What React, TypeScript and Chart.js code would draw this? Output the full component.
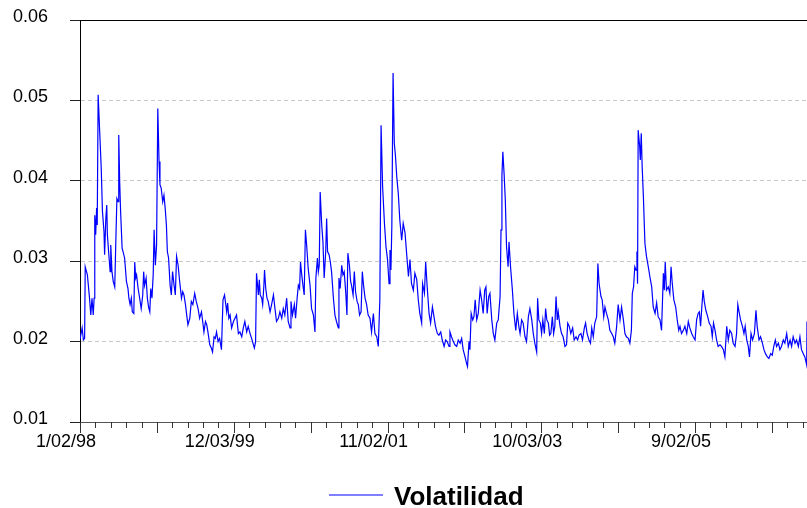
import React, { useEffect, useRef } from "react";
import { Chart, registerables } from "chart.js";

Chart.register(...registerables);

// trading-day index since 1/02/98
const days = [
  0, 7, 11, 15, 17, 24, 31, 35, 39, 43,
  46, 48, 51, 54, 56, 59, 64, 69, 73, 78,
  80, 84, 87, 89, 93, 98, 100, 104, 108, 113,
  117, 120, 124, 126, 129, 132, 137, 140, 145, 151,
  156, 159, 163, 167, 170, 175, 178, 181, 184, 189,
  194, 199, 204, 207, 210, 215, 219, 223, 227, 230,
  234, 238, 241, 245, 249, 253, 257, 260, 264, 269,
  273, 277, 281, 284, 288, 293, 297, 301, 306, 310,
  314, 319, 324, 330, 334, 338, 343, 347, 351, 357,
  362, 367, 373, 378, 384, 389, 395, 399, 403, 408,
  412, 416, 422, 427, 431, 436, 440, 444, 449, 454,
  460, 465, 470, 477, 480, 484, 488, 493, 499, 504,
  509, 515, 520, 526, 531, 536, 542, 547, 553, 558,
  564, 567, 571, 574, 580, 583, 586, 591, 594, 598,
  600, 604, 608, 612, 618, 623, 629, 634, 639, 645,
  650, 656, 661, 666, 672, 677, 683, 686, 691, 697,
  701, 706, 710, 714, 717, 721, 725, 729, 733, 737,
  742, 748, 753, 759, 764, 767, 772, 775, 778, 781,
  786, 790, 794, 799, 802, 805, 810, 814, 818, 824,
  829, 834, 840, 842, 846, 851, 855, 859, 864, 868,
  871, 876, 880, 883, 888, 892, 896, 901, 905, 909,
  914, 918, 922, 927, 932, 937, 943, 948, 954, 959,
  965, 970, 975, 979, 984, 990, 995, 1000, 1005, 1008,
  1011, 1014, 1018, 1022, 1026, 1030, 1035, 1040, 1046, 1051,
  1057, 1062, 1068, 1073, 1078, 1084, 1089, 1095, 1100, 1105,
  1111, 1114, 1120, 1124, 1129, 1135, 1140, 1146, 1151, 1156,
  1162, 1167, 1173, 1178, 1184, 1189, 1194, 1200, 1203, 1208,
  1214, 1219, 1225, 1230, 1236, 1241, 1246, 1252, 1257, 1260,
  1265, 1268, 1272, 1277, 1281, 1285, 1290, 1295, 1301, 1306,
  1311, 1316, 1320, 1324, 1329, 1333, 1339, 1344, 1349, 1355,
  1360, 1366, 1369, 1372, 1375, 1379, 1383, 1387, 1392, 1395,
  1400, 1406, 1411, 1417, 1422, 1427, 1431, 1436, 1441, 1447,
  1452, 1458, 1463, 1469, 1474, 1479, 1485, 1488, 1492, 1497,
  1501, 1505, 1510, 1514, 1518, 1523, 1527, 1531, 1536, 1540,
  1544, 1548, 1552, 1555, 1561, 1566, 1571, 1577, 1582, 1586,
  1591, 1596, 1602, 1607, 1613, 1618, 1623, 1629, 1634, 1640,
  1644, 1649, 1655, 1660, 1664, 1669, 1674, 1680, 1684, 1688,
  1694, 1698, 1703, 1707, 1712, 1718, 1723, 1729, 1734, 1739,
  1745, 1750, 1756, 1761, 1767, 1772, 1777, 1783, 1788, 1793,
  1796, 1800, 1804, 1808, 1811, 1813, 1815, 1820, 1822, 1825,
  1828, 1832, 1837, 1842, 1848, 1853, 1859, 1864, 1870, 1875,
  1880, 1886, 1891, 1897, 1900, 1903, 1907, 1913, 1918, 1922,
  1926, 1931, 1937, 1942, 1947, 1951, 1956, 1962, 1967, 1973,
  1978, 1983, 1989, 1994, 2000, 2005, 2010, 2014, 2018, 2022,
  2026, 2030, 2035, 2041, 2046, 2052, 2056, 2060, 2065, 2070,
  2075, 2081, 2086, 2092, 2097, 2103, 2108, 2113, 2119, 2124,
  2130, 2135, 2139, 2144, 2148, 2154, 2159, 2163, 2168, 2173,
  2177, 2182, 2187, 2193, 2198, 2202, 2208, 2213, 2219, 2224,
  2229, 2235, 2240, 2246, 2251, 2256, 2261, 2265, 2271, 2276,
  2281, 2287, 2292, 2298, 2303, 2309, 2314, 2319, 2325, 2330,
  2336, 2341, 2346, 2352, 2357, 2363, 2364,
];

const volatility = [
  0.0203, 0.0217, 0.0202, 0.0204, 0.0293, 0.0283, 0.0254, 0.0233, 0.0254, 0.0233,
  0.0254, 0.0357, 0.0333, 0.0366, 0.0345, 0.0507, 0.0461, 0.0416, 0.0362, 0.0337,
  0.0308, 0.0353, 0.0370, 0.0333, 0.0312, 0.0287, 0.0320, 0.0287, 0.0275, 0.0268,
  0.0333, 0.0378, 0.0374, 0.0457, 0.0399, 0.0362, 0.0316, 0.0312, 0.0304, 0.0275,
  0.0266, 0.0254, 0.0246, 0.0254, 0.0237, 0.0235, 0.0299, 0.0279, 0.0283, 0.0266,
  0.0254, 0.0241, 0.0258, 0.0287, 0.0270, 0.0279, 0.0254, 0.0243, 0.0237, 0.0266,
  0.0254, 0.0283, 0.0339, 0.0295, 0.0320, 0.0490, 0.0424, 0.0395, 0.0391, 0.0374,
  0.0382, 0.0366, 0.0345, 0.0312, 0.0304, 0.0270, 0.0258, 0.0287, 0.0270, 0.0258,
  0.0306, 0.0295, 0.0275, 0.0254, 0.0262, 0.0258, 0.0246, 0.0233, 0.0221, 0.0229,
  0.0250, 0.0246, 0.0260, 0.0250, 0.0241, 0.0229, 0.0237, 0.0225, 0.0212, 0.0225,
  0.0221, 0.0212, 0.0196, 0.0192, 0.0187, 0.0206, 0.0204, 0.0212, 0.0200, 0.0204,
  0.0190, 0.0252, 0.0258, 0.0237, 0.0248, 0.0229, 0.0233, 0.0217, 0.0225, 0.0229,
  0.0233, 0.0210, 0.0212, 0.0206, 0.0217, 0.0225, 0.0212, 0.0219, 0.0210, 0.0204,
  0.0196, 0.0192, 0.0200, 0.0285, 0.0258, 0.0277, 0.0258, 0.0254, 0.0246, 0.0270,
  0.0289, 0.0266, 0.0254, 0.0250, 0.0237, 0.0246, 0.0258, 0.0241, 0.0225, 0.0229,
  0.0237, 0.0229, 0.0241, 0.0233, 0.0254, 0.0225, 0.0217, 0.0250, 0.0233, 0.0246,
  0.0229, 0.0254, 0.0270, 0.0266, 0.0299, 0.0283, 0.0270, 0.0258, 0.0339, 0.0320,
  0.0291, 0.0270, 0.0241, 0.0233, 0.0212, 0.0279, 0.0304, 0.0287, 0.0295, 0.0386,
  0.0345, 0.0324, 0.0279, 0.0312, 0.0353, 0.0312, 0.0308, 0.0299, 0.0287, 0.0254,
  0.0233, 0.0225, 0.0217, 0.0279, 0.0266, 0.0295, 0.0283, 0.0287, 0.0262, 0.0233,
  0.0310, 0.0295, 0.0275, 0.0270, 0.0258, 0.0287, 0.0262, 0.0250, 0.0246, 0.0233,
  0.0237, 0.0287, 0.0270, 0.0254, 0.0246, 0.0233, 0.0229, 0.0212, 0.0235, 0.0210,
  0.0206, 0.0194, 0.0252, 0.0469, 0.0393, 0.0347, 0.0318, 0.0302, 0.0272, 0.0314,
  0.0289, 0.0343, 0.0534, 0.0447, 0.0430, 0.0405, 0.0384, 0.0351, 0.0326, 0.0347,
  0.0335, 0.0310, 0.0281, 0.0302, 0.0272, 0.0264, 0.0285, 0.0277, 0.0252, 0.0235,
  0.0223, 0.0272, 0.0260, 0.0299, 0.0268, 0.0235, 0.0223, 0.0243, 0.0231, 0.0219,
  0.0210, 0.0208, 0.0212, 0.0202, 0.0194, 0.0202, 0.0200, 0.0194, 0.0212, 0.0206,
  0.0200, 0.0196, 0.0194, 0.0202, 0.0198, 0.0204, 0.0190, 0.0181, 0.0173, 0.0169,
  0.0200, 0.0190, 0.0235, 0.0227, 0.0231, 0.0252, 0.0227, 0.0235, 0.0264, 0.0252,
  0.0235, 0.0264, 0.0268, 0.0235, 0.0256, 0.0260, 0.0227, 0.0210, 0.0202, 0.0223,
  0.0227, 0.0256, 0.0339, 0.0407, 0.0436, 0.0409, 0.0376, 0.0318, 0.0293, 0.0324,
  0.0293, 0.0264, 0.0235, 0.0214, 0.0235, 0.0219, 0.0210, 0.0227, 0.0223, 0.0206,
  0.0200, 0.0231, 0.0241, 0.0227, 0.0210, 0.0198, 0.0187, 0.0254, 0.0227, 0.0223,
  0.0210, 0.0227, 0.0210, 0.0241, 0.0227, 0.0223, 0.0208, 0.0210, 0.0231, 0.0210,
  0.0219, 0.0256, 0.0227, 0.0237, 0.0219, 0.0210, 0.0206, 0.0194, 0.0196, 0.0223,
  0.0219, 0.0210, 0.0217, 0.0202, 0.0206, 0.0202, 0.0208, 0.0210, 0.0202, 0.0217,
  0.0223, 0.0210, 0.0202, 0.0198, 0.0217, 0.0206, 0.0223, 0.0231, 0.0297, 0.0272,
  0.0256, 0.0252, 0.0231, 0.0243, 0.0235, 0.0227, 0.0214, 0.0210, 0.0206, 0.0198,
  0.0219, 0.0246, 0.0227, 0.0243, 0.0227, 0.0210, 0.0206, 0.0204, 0.0198, 0.0214,
  0.0260, 0.0268, 0.0293, 0.0289, 0.0312, 0.0272, 0.0463, 0.0442, 0.0426, 0.0459,
  0.0418, 0.0380, 0.0322, 0.0306, 0.0293, 0.0281, 0.0268, 0.0243, 0.0235, 0.0248,
  0.0231, 0.0227, 0.0214, 0.0285, 0.0264, 0.0299, 0.0264, 0.0268, 0.0260, 0.0293,
  0.0272, 0.0252, 0.0243, 0.0227, 0.0214, 0.0219, 0.0210, 0.0214, 0.0219, 0.0210,
  0.0225, 0.0217, 0.0210, 0.0206, 0.0202, 0.0227, 0.0235, 0.0237, 0.0219, 0.0243,
  0.0264, 0.0250, 0.0239, 0.0231, 0.0223, 0.0219, 0.0206, 0.0223, 0.0214, 0.0202,
  0.0194, 0.0196, 0.0194, 0.0190, 0.0181, 0.0219, 0.0202, 0.0214, 0.0210, 0.0198,
  0.0194, 0.0210, 0.0246, 0.0235, 0.0227, 0.0219, 0.0210, 0.0219, 0.0202, 0.0194,
  0.0181, 0.0210, 0.0202, 0.0210, 0.0239, 0.0219, 0.0202, 0.0206, 0.0198, 0.0190,
  0.0185, 0.0181, 0.0179, 0.0185, 0.0183, 0.0194, 0.0202, 0.0194, 0.0198, 0.0190,
  0.0194, 0.0202, 0.0198, 0.0210, 0.0194, 0.0202, 0.0194, 0.0206, 0.0198, 0.0202,
  0.0194, 0.0206, 0.0190, 0.0185, 0.0181, 0.0171, 0.0225,
];

const tickDays = [0, 500, 1000, 1500, 2000];
const tickLabels = ["1/02/98", "12/03/99", "11/02/01", "10/03/03", "9/02/05"];
const lastDay = 2364;
const minorTickStep = 50;
const majorTickStep = 250;
const yMin = 0.01;
const yMax = 0.06;
const yStep = 0.01;
const seriesName = "Volatilidad";

const FONT = '"Liberation Sans", Arial, Helvetica, sans-serif';

export default function App() {
  const ref = useRef<HTMLCanvasElement>(null);

  useEffect(() => {
    document.body.style.margin = "0";
    const canvas = ref.current;
    if (!canvas) return;

    const xTickPlugin = {
      id: "xTickMarks",
      afterDraw(chart: any) {
        const sx = chart.scales.x;
        const area = chart.chartArea;
        const c = chart.ctx;
        c.save();
        c.strokeStyle = "#333";
        c.lineWidth = 1;
        c.beginPath();
        for (let v = 0; v <= lastDay; v += minorTickStep) {
          const px = Math.round(sx.getPixelForValue(v)) + 0.5;
          const len = v % majorTickStep === 0 ? 11 : 6;
          c.moveTo(px, area.bottom);
          c.lineTo(px, area.bottom + len);
        }
        c.stroke();
        c.restore();
      },
    };

    const legendPlugin = {
      id: "bottomLegend",
      afterDraw(chart: any) {
        const c = chart.ctx;
        const ds = chart.data.datasets[0];
        c.save();
        c.strokeStyle = ds.borderColor;
        c.lineWidth = 1;
        c.beginPath();
        c.moveTo(329, 495);
        c.lineTo(383, 495);
        c.stroke();
        c.font = `bold 26px ${FONT}`;
        c.fillStyle = "#000";
        c.textAlign = "left";
        c.textBaseline = "alphabetic";
        c.fillText(ds.label, 394, 505);
        c.restore();
      },
    };

    const near = (a: number, b: number) => Math.abs(a - b) < 1e-9;

    const chart = new Chart(canvas, {
      type: "line",
      data: {
        datasets: [
          {
            label: seriesName,
            data: days.map((d, i) => ({ x: d, y: volatility[i] })),
            borderColor: "#0000ff",
            borderWidth: 1.2,
            pointRadius: 0,
            tension: 0,
            fill: false,
          },
        ],
      },
      options: {
        animation: false,
        responsive: false,
        events: [],
        layout: { padding: { top: 20, left: 0, right: 0, bottom: 0 } },
        plugins: { legend: { display: false }, tooltip: { enabled: false } },
        scales: {
          x: {
            type: "linear",
            min: 0,
            max: lastDay,
            afterBuildTicks: (s: any) => {
              s.ticks = tickDays.map((v) => ({ value: v }));
            },
            afterFit: (s: any) => {
              s.height = 86;
              s.paddingLeft = 0;
              s.paddingRight = 0;
            },
            grid: { display: false, drawTicks: false },
            border: { display: true, color: "#555", width: 1 },
            ticks: {
              autoSkip: false,
              maxRotation: 0,
              minRotation: 0,
              labelOffset: -14,
              padding: 9,
              color: "#000",
              font: { family: FONT, size: 18 },
              callback: (v: any) => {
                const i = tickDays.indexOf(Number(v));
                return i >= 0 ? tickLabels[i] : "";
              },
            },
          },
          y: {
            min: yMin,
            max: yMax,
            afterFit: (s: any) => {
              s.width = 80;
              s.paddingTop = 0;
              s.paddingBottom = 0;
            },
            ticks: {
              stepSize: yStep,
              padding: 22,
              labelOffset: -3,
              color: "#000",
              font: { family: FONT, size: 18 },
              callback: (v: any) => Number(v).toFixed(2),
            },
            grid: {
              color: (ctx: any) => {
                const v = ctx.tick ? ctx.tick.value : NaN;
                if (near(v, yMax)) return "#000";
                if (near(v, yMin)) return "rgba(0,0,0,0)";
                return "#c8c8c8";
              },
              tickColor: "#222",
              tickLength: 10,
              lineWidth: 1,
            },
            border: {
              display: true,
              color: "#000",
              width: 1,
              dash: (ctx: any) => {
                const v = ctx.tick ? ctx.tick.value : NaN;
                return near(v, yMax) ? [] : [4, 3];
              },
            },
          },
        },
      },
      plugins: [xTickPlugin, legendPlugin],
    } as any);

    return () => chart.destroy();
  }, []);

  return (
    <canvas
      ref={ref}
      width={807}
      height={508}
      style={{ display: "block", width: 807, height: 508 }}
    />
  );
}
